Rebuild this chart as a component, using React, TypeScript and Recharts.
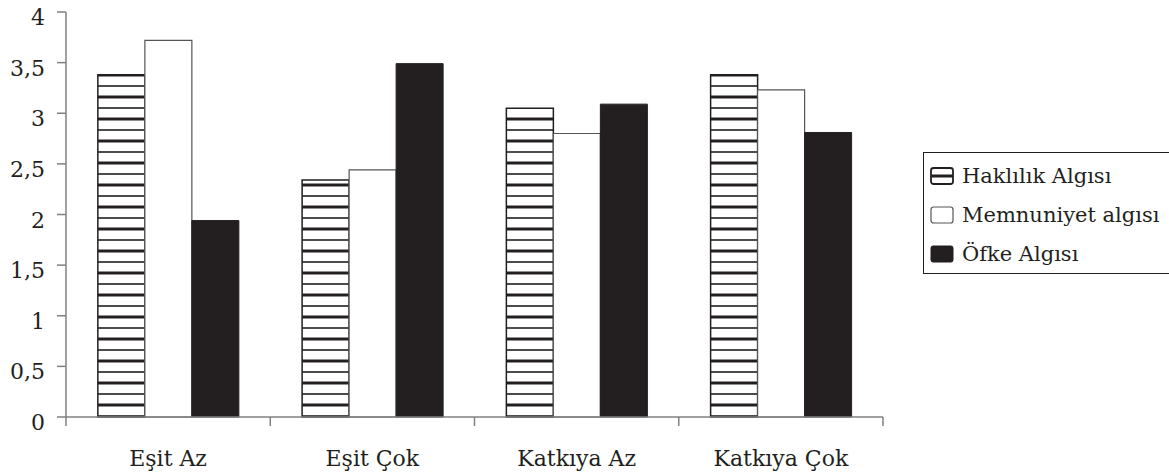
import React from 'react';
import { BarChart, Bar, XAxis, YAxis } from 'recharts';

const categories = ['Eşit Az', 'Eşit Çok', 'Katkıya Az', 'Katkıya Çok'];
const hakliValues = [3.38, 2.34, 3.05, 3.38];
const memnunValues = [3.72, 2.44, 2.8, 3.23];
const ofkeValues = [1.94, 3.49, 3.09, 2.81];
const yTicks = [0, 0.5, 1, 1.5, 2, 2.5, 3, 3.5, 4];
const seriesNames = ['Haklılık Algısı', 'Memnuniyet algısı', 'Öfke Algısı'];

const data = categories.map((c, i) => ({
  name: c,
  hakli: hakliValues[i],
  memnun: memnunValues[i],
  ofke: ofkeValues[i],
}));

const INK = '#231f20';
const AXIS = '#808080';
const FONT = 'DejaVu Serif';

const XTick = (props: any) => {
  const { x, y, payload, index } = props;
  const off = payload.offset || 0;
  return (
    <g>
      <line x1={x - off} y1={y - 9} x2={x - off} y2={y} stroke={AXIS} strokeWidth={1.5} />
      {index === categories.length - 1 && (
        <line x1={x + off} y1={y - 9} x2={x + off} y2={y} stroke={AXIS} strokeWidth={1.5} />
      )}
      <text x={x} y={y + 40} textAnchor="middle" fill={INK} fontSize={22} fontFamily={FONT}>
        {payload.value}
      </text>
    </g>
  );
};

const fmt = (v: number) => String(v).replace('.', ',');

const YTick = (props: any) => {
  const { x, y, payload } = props;
  return (
    <text x={x} y={y} dy={13} textAnchor="end" fill={INK} fontSize={22} fontFamily={FONT}>
      {fmt(payload.value)}
    </text>
  );
};

const LegendBox = () => (
  <div
    style={{
      position: 'absolute',
      left: 923,
      top: 152,
      border: '1.5px solid #231f20',
      background: '#fff',
      width: 260,
      height: 122,
      boxSizing: 'border-box',
      padding: '3px 0 0 6px',
      fontFamily: FONT,
      fontSize: 21,
      color: INK,
    }}
  >
    {seriesNames.map((n, i) => (
      <div key={n} style={{ display: 'flex', alignItems: 'center', height: 39, whiteSpace: 'nowrap' }}>
        <svg width={26} height={20} style={{ marginRight: 6 }}>
          {i === 0 && (
            <g>
              <rect x={1} y={2} width={22} height={16} rx={2.5} fill="#fff" stroke={INK} strokeWidth={1.8} />
              <line x1={1} y1={10} x2={23} y2={10} stroke={INK} strokeWidth={3} />
            </g>
          )}
          {i === 1 && <rect x={1} y={2} width={22} height={16} rx={2.5} fill="#fff" stroke="#555" strokeWidth={1.2} />}
          {i === 2 && <rect x={1} y={2} width={22} height={16} rx={2} fill={INK} stroke={INK} strokeWidth={1} />}
        </svg>
        <span>{n}</span>
      </div>
    ))}
  </div>
);

export default function App() {
  return (
    <div style={{ position: 'absolute', left: 0, top: 0, width: 1169, height: 475, overflow: 'hidden', background: '#fff' }}>
      <BarChart
        width={1169}
        height={475}
        data={data}
        margin={{ top: 12, right: 286, bottom: 0, left: 0 }}
        barCategoryGap="15.6%"
        barGap={0}
      >
        <defs>
          <pattern id="stripes" patternUnits="userSpaceOnUse" width={10} height={22}>
            <rect x={0} y={0} width={10} height={22} fill="#fff" />
            <rect x={0} y={7.5} width={10} height={3} fill={INK} />
            <rect x={0} y={19.2} width={10} height={1.6} fill={INK} />
          </pattern>
        </defs>
        <XAxis
          dataKey="name"
          height={58}
          axisLine={{ stroke: AXIS, strokeWidth: 1.5 }}
          tickLine={false}
          tickSize={9}
          tickMargin={0}
          tick={<XTick />}
          interval={0}
        />
        <YAxis
          width={66}
          domain={[0, 4]}
          ticks={yTicks}
          interval={0}
          axisLine={{ stroke: AXIS, strokeWidth: 1.5 }}
          tickLine={{ stroke: AXIS, strokeWidth: 1.5 }}
          tickSize={9}
          tickMargin={12}
          tick={<YTick />}
        />
        <Bar dataKey="hakli" name={seriesNames[0]} fill="url(#stripes)" stroke={INK} strokeWidth={1.5} isAnimationActive={false} />
        <Bar dataKey="memnun" name={seriesNames[1]} fill="#fff" stroke="#555" strokeWidth={1.2} isAnimationActive={false} />
        <Bar dataKey="ofke" name={seriesNames[2]} fill={INK} stroke={INK} strokeWidth={1} isAnimationActive={false} />
      </BarChart>
      <LegendBox />
    </div>
  );
}
